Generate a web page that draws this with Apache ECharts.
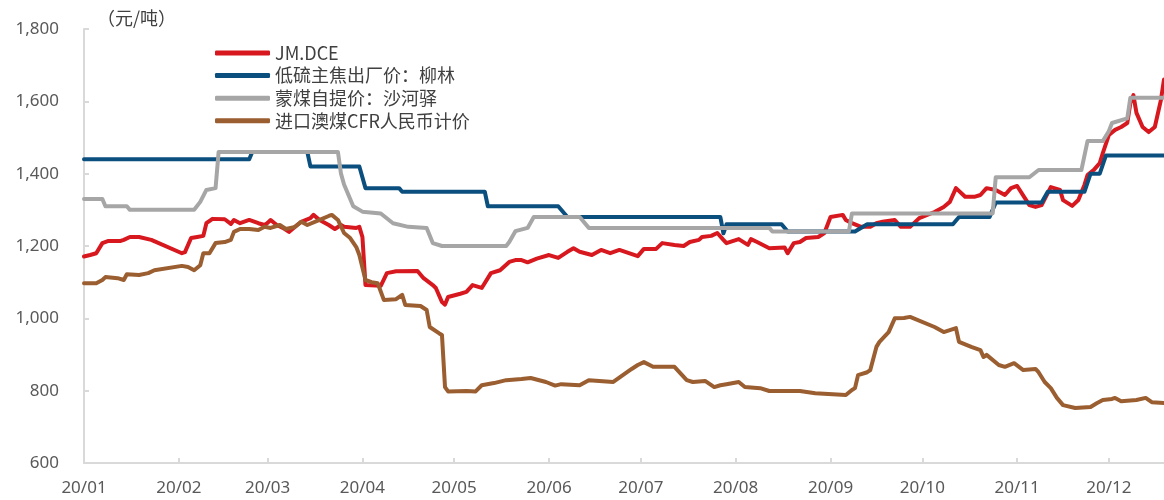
<!DOCTYPE html>
<html>
<head>
<meta charset="utf-8">
<title>焦煤价格走势</title>
<script src="https://cdn.jsdelivr.net/npm/echarts@6/dist/echarts.min.js"></script>
<style>
  html, body { margin: 0; padding: 0; background: #fff; }
  #main { width: 1164px; height: 500px; }
</style>
</head>
<body>
<div id="main"></div>
<script>
    // 数据（日期为 2020 年 月-日）
    var seriesNames = ['JM.DCE', '低硫主焦出厂价：柳林', '蒙煤自提价：沙河驿', '进口澳煤CFR人民币计价'];
    var yTicks = [600, 800, 1000, 1200, 1400, 1600, 1800];

    var jmDates = ['01-01','01-03','01-05','01-07','01-09','01-13','01-14','01-16','01-19','01-23',
        '02-02','02-03','02-05','02-07','02-09','02-10','02-12','02-16','02-18','02-19','02-21','02-24','02-27','02-29',
        '03-01','03-02','03-04','03-06','03-08','03-10','03-12','03-15','03-16','03-18','03-21','03-23','03-25','03-26','03-30','03-31',
        '04-01','04-02','04-07','04-09','04-12','04-19','04-21','04-24','04-25','04-27','04-28','04-29',
        '05-03','05-05','05-07','05-10','05-13','05-16','05-19','05-21','05-23','05-25','05-28',
        '06-01','06-04','06-07','06-09','06-11','06-15','06-18','06-21','06-24','06-30',
        '07-02','07-06','07-08','07-12','07-15','07-17','07-20','07-21','07-24','07-26','07-28','07-29',
        '08-02','08-05','08-06','08-08','08-12','08-17','08-18','08-20','08-22','08-24','08-28','08-30','08-31',
        '09-01','09-05','09-06','09-08','09-11','09-14','09-16','09-18','09-22','09-24','09-27','09-30',
        '10-05','10-08','10-10','10-12','10-15','10-18','10-20','10-22','10-25','10-28','10-30',
        '11-01','11-05','11-07','11-09','11-12','11-15','11-16','11-19','11-21','11-23','11-24','11-26','11-28','11-29',
        '12-01','12-03','12-05','12-07','12-08','12-09','12-10','12-12','12-14','12-16','12-18','12-19'];
    var jmValues = [1171,1175,1180,1208,1214,1214,1217,1225,1225,1217,
        1180,1183,1222,1225,1228,1263,1275,1274,1261,1272,1263,1272,1263,1258,
        1264,1272,1258,1250,1239,1253,1267,1277,1286,1272,1258,1247,1258,1253,1250,1253,
        1225,1092,1090,1125,1130,1131,1111,1092,1084,1045,1038,1059,
        1068,1073,1092,1084,1125,1133,1156,1161,1161,1155,1165,
        1175,1167,1184,1194,1184,1175,1189,1180,1189,1172,
        1192,1192,1208,1203,1200,1211,1217,1225,1228,1236,1217,1208,
        1219,1203,1219,1211,1194,1196,1180,1208,1211,1222,1225,1236,1258,
        1280,1286,1272,1263,1253,1253,1263,1267,1272,1253,1253,1277,
        1294,1308,1322,1360,1336,1336,1341,1360,1355,1341,1360,
        1366,1313,1308,1313,1363,1355,1327,1311,1327,1369,1396,1410,1429,1457,
        1507,1521,1529,1540,1595,1617,1568,1529,1515,1529,1604,1660];

    var llDates = ['01-01','02-24','02-25','03-14','03-15','03-31','04-02','04-13','04-14','05-11','05-12',
        '06-04','06-07','07-27','07-28','07-29','08-16','08-18','09-09','09-13','10-11','10-13',
        '10-23','10-25','11-09','11-11','11-23','11-25','11-28','11-30','12-19'];
    var llValues = [1440,1440,1460,1460,1420,1420,1360,1360,1350,1350,1310,
        1310,1280,1280,1235,1260,1260,1240,1240,1260,1260,1280,
        1280,1320,1320,1350,1350,1400,1400,1450,1450];

    var shyDates = ['01-01','01-07','01-08','01-15','01-16','02-06','02-08','02-10','02-13','02-14',
        '03-24','03-25','03-26','03-29','04-01','04-07','04-11','04-16','04-22','04-24','04-27',
        '05-18','05-19','05-21','05-25','05-27','06-11','06-14','08-12','08-13','09-07','09-08',
        '10-24','10-25','11-05','11-08','11-22','11-24','11-29','12-01','12-02','12-07','12-08','12-19'];
    var shyValues = [1330,1330,1310,1310,1300,1300,1322,1355,1360,1460,
        1460,1400,1370,1310,1295,1290,1263,1253,1250,1208,1200,
        1200,1211,1241,1250,1280,1280,1250,1250,1240,1240,1290,
        1290,1390,1390,1410,1410,1490,1490,1518,1540,1553,1610,1610];

    var cfrDates = ['01-01','01-05','01-07','01-08','01-12','01-14','01-15','01-19','01-22','01-24',
        '02-02','02-04','02-06','02-08','02-09','02-11','02-13','02-16','02-18','02-19','02-21','02-24','02-27','02-29',
        '03-02','03-05','03-07','03-10','03-12','03-14','03-18','03-21','03-22','03-24','03-26','03-28','03-30','03-31',
        '04-02','04-04','04-06','04-08','04-12','04-14','04-15','04-20','04-22','04-23','04-26','04-27','04-28','04-29',
        '05-05','05-08','05-10','05-14','05-18','05-23','05-26','05-31',
        '06-03','06-05','06-11','06-14','06-22','06-28','06-30',
        '07-02','07-05','07-12','07-16','07-18','07-22','07-25','07-27','07-29',
        '08-02','08-04','08-09','08-12','08-18','08-22','08-27',
        '09-06','09-08','09-09','09-10','09-13','09-14','09-16','09-17','09-20','09-22','09-25','09-27',
        '10-05','10-08','10-12','10-13','10-17','10-20','10-21','10-22','10-26','10-28','10-31',
        '11-03','11-07','11-08','11-10','11-12','11-14','11-16','11-20','11-25','11-27','11-29',
        '12-02','12-03','12-05','12-10','12-13','12-15','12-19'];
    var cfrValues = [1097,1097,1106,1114,1111,1106,1122,1120,1125,1133,
        1145,1142,1133,1147,1180,1180,1208,1211,1217,1239,1247,1247,1244,1253,
        1250,1258,1247,1253,1267,1258,1272,1283,1286,1272,1236,1222,1197,1175,
        1106,1100,1097,1051,1053,1065,1037,1034,1023,976,959,954,810,798,
        799,798,815,821,829,832,835,824,
        814,818,815,829,824,860,871,
        879,866,866,829,824,827,810,815,818,
        824,810,807,799,799,799,793,
        788,802,807,843,851,857,921,935,962,1000,1001,1004,
        976,962,973,935,921,912,893,899,871,866,876,
        857,860,851,824,807,780,760,752,755,765,774,
        777,780,771,774,780,768,766];

    var colors = ['#d7181f', '#0b4f7f', '#a6a6a6', '#9a5e30'];

    function pairs(dates, values) {
        return dates.map(function (d, i) { return ['2020-' + d, values[i]]; });
    }

    var allData = [
        pairs(jmDates, jmValues),
        pairs(llDates, llValues),
        pairs(shyDates, shyValues),
        pairs(cfrDates, cfrValues)
    ];

    var fontFamily = '"Noto Sans", "Noto Sans CJK SC", sans-serif';

    var myChart = echarts.init(document.getElementById('main'));

    var option = {
        animation: false,
        color: colors,
        textStyle: { fontFamily: fontFamily },
        grid: { left: 84, right: 0, top: 29, bottom: 37 },
        graphic: [{
            type: 'text',
            left: 97,
            top: 9,
            style: { text: '（元/吨）', fill: '#404040', font: '18px "Noto Sans CJK SC", sans-serif' }
        }],
        legend: {
            orient: 'vertical',
            left: 215,
            top: 44,
            padding: 0,
            itemWidth: 55,
            itemHeight: 5,
            itemGap: 4.6,
            icon: 'roundRect',
            textStyle: {
                fontSize: 18,
                lineHeight: 18,
                color: '#404040',
                fontFamily: '"Noto Sans CJK SC", sans-serif'
            },
            data: seriesNames
        },
        xAxis: {
            type: 'time',
            min: '2020-01-01',
            max: '2020-12-19',
            splitNumber: 12,
            axisLine: { lineStyle: { color: '#d9d9d9', width: 2 } },
            axisTick: { show: true, inside: true, length: 5, lineStyle: { color: '#d9d9d9', width: 2 } },
            splitLine: { show: false },
            axisLabel: {
                formatter: '{yy}/{MM}',
                color: '#595959',
                fontSize: 17,
                margin: 17,
                showMaxLabel: false,
                hideOverlap: false
            }
        },
        yAxis: {
            type: 'value',
            min: yTicks[0],
            max: yTicks[yTicks.length - 1],
            interval: 200,
            axisLine: { show: true, lineStyle: { color: '#d9d9d9', width: 2 } },
            axisTick: { show: true, inside: true, length: 5, lineStyle: { color: '#d9d9d9', width: 2 } },
            splitLine: { show: false },
            axisLabel: {
                color: '#595959',
                fontSize: 17,
                margin: 25,
                formatter: function (v) { return v.toLocaleString('en-US'); }
            }
        },
        series: seriesNames.map(function (name, i) {
            return {
                name: name,
                type: 'line',
                data: allData[i],
                showSymbol: false,
                symbol: 'none',
                lineStyle: { width: 4, color: colors[i], cap: 'round', join: 'round' }
            };
        })
    };

    myChart.setOption(option);
</script>
</body>
</html>
